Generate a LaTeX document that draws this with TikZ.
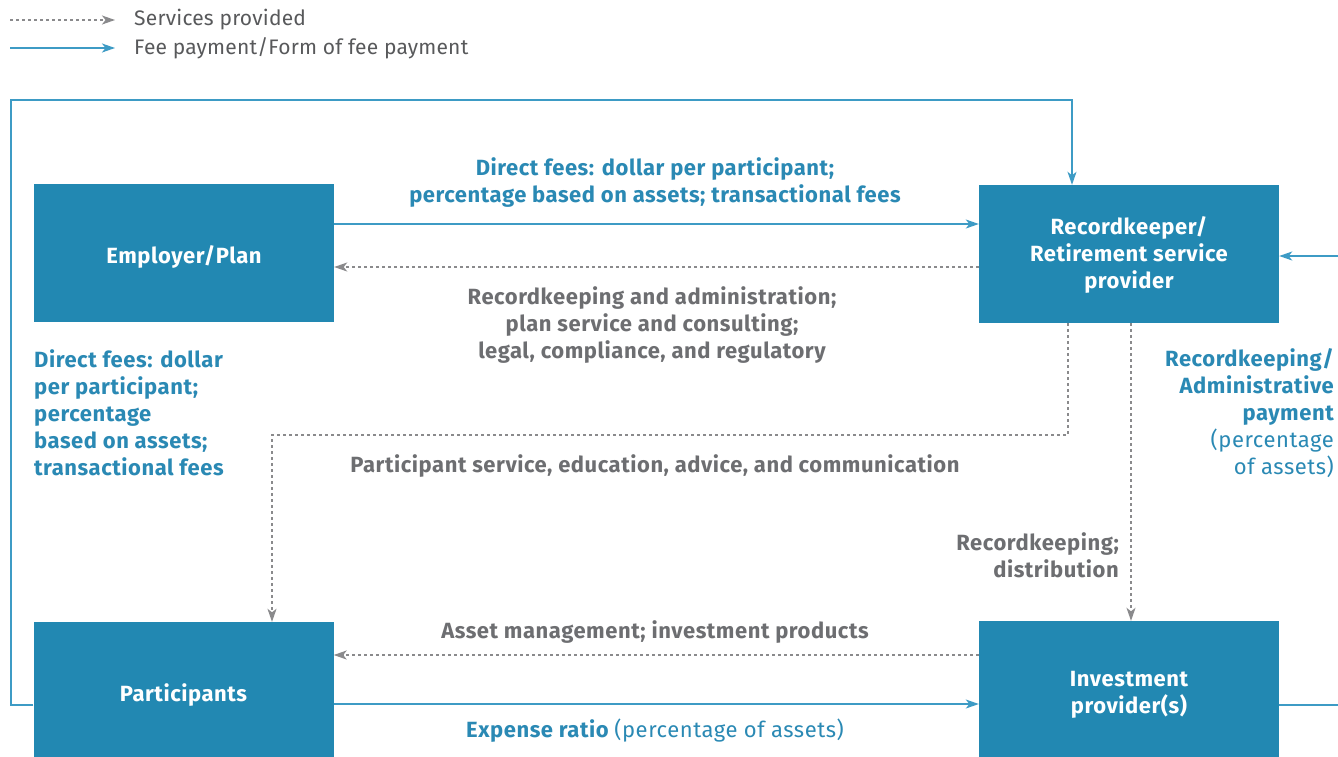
\documentclass[tikz,border=0pt]{standalone}
\usepackage{fontspec}
\setmainfont{Fira Sans}
\newfontfamily\tfont{Fira Sans}[LetterSpace=2.5]
\newfontfamily\lfont{Fira Sans}[LetterSpace=1]
\usetikzlibrary{arrows.meta}
\definecolor{boxblue}{HTML}{2288B2}
\definecolor{lineblue}{HTML}{3D9BC5}
\definecolor{txtblue}{HTML}{2A89B4}
\definecolor{txtgray}{HTML}{6D6E71}
\definecolor{leggray}{HTML}{58595B}
\definecolor{dotgray}{HTML}{8A8A8C}
\newcommand\fsz{\tfont\fontsize{22}{27}\selectfont}
\newcommand\lsz{\lfont\fontsize{21}{27}\selectfont}
\begin{document}
\begin{tikzpicture}[x=1pt,y=-1pt,
  box/.style={fill=boxblue, draw=none, minimum width=300pt, minimum height=138pt, inner sep=0pt},
  boxtext/.style={text=white, font=\fsz\bfseries, align=center, inner sep=0pt},
  tip/.style={-{Stealth[length=13pt,width=9pt,inset=3.5pt]}},
  fee/.style={draw=lineblue, line width=1.3pt, tip},
  svc/.style={draw=dotgray, line width=1.3pt, dash pattern=on 3pt off 3pt, tip},
  bluelbl/.style={text=txtblue, font=\fsz\bfseries, inner sep=0pt},
  graylbl/.style={text=txtgray, font=\fsz\bfseries, inner sep=0pt},
  leglbl/.style={text=leggray, font=\lsz, inner sep=0pt, anchor=west}]
\clip (0,0) rectangle (1338,756);
\fill[white] (0,0) rectangle (1338,756);

% legend
\coordinate (l1a) at (10,20);
\coordinate (l1b) at (115,20);
\coordinate (l2a) at (10,48);
\coordinate (l2b) at (115,48);
\draw[svc] (l1a) -- (l1b);
\draw[fee] (l2a) -- (l2b);
\node[leglbl] (lg1) at (134,20) {Services provided};
\node[leglbl] (lg2) at (134,48) {Fee payment/Form of fee payment};

% boxes
\node[box, label={[boxtext, yshift=-4pt]center:Employer/Plan}] (emp) at (184,253) {};
\node[box, label={[boxtext, yshift=-1pt]center:{Recordkeeper/\\Retirement service\\provider}}] (rec) at (1129,254) {};
\node[box, label={[boxtext, yshift=-4pt]center:Participants}] (par) at (183.5,691) {};
\node[box, label={[boxtext, yshift=-5pt]center:{Investment\\provider(s)}}] (inv) at (1129,690) {};

% connectors
\draw[fee] (emp.east |- 0,224) -- (rec.west |- 0,224);
\draw[svc] (rec.west |- 0,267) -- (emp.east |- 0,267);
\draw[fee] (par.west |- 0,705) -- (11,705) -- (11,100) -- (1072,100) -- (rec.north -| 1072,0);
\draw[fee] (inv.east |- 0,705) -- (1352,705) -- (1352,256) -- (rec.east |- 0,256);
\draw[svc] (rec.south -| 1068,0) -- (1068,435) -- (272,435) -- (par.north -| 272,0);
\draw[svc] (rec.south -| 1131,0) -- (inv.north -| 1131,0);
\draw[svc] (inv.west |- 0,655) -- (par.east |- 0,655);
\draw[fee] (par.east |- 0,704) -- (inv.west |- 0,704);

% labels
\node[bluelbl, align=center] (t1) at (655,182.5) {Direct fees: dollar per participant;\\percentage based on assets; transactional fees};
\node[graylbl, align=center] (t2) at (652,325) {Recordkeeping and administration;\\plan service and consulting;\\legal, compliance, and regulatory};
\node[bluelbl, align=left, anchor=west] (t3) at (34,412.5) {Direct fees: dollar\\per participant;\\percentage\\based on assets;\\transactional fees};
\node[graylbl] (t4) at (655,466) {Participant service, education, advice, and communication};
\node[bluelbl, align=right, anchor=east] (t5) at (1334,413.5) {Recordkeeping/\\Administrative\\payment\\\mdseries(percentage\\\mdseries of assets)};
\node[graylbl, align=right, anchor=east] (t6) at (1119,555.5) {Recordkeeping;\\distribution};
\node[graylbl] (t7) at (655,632) {Asset management; investment products};
\node[bluelbl] (t8) at (655,731) {Expense ratio \mdseries(percentage of assets)};
\end{tikzpicture}
\end{document}
